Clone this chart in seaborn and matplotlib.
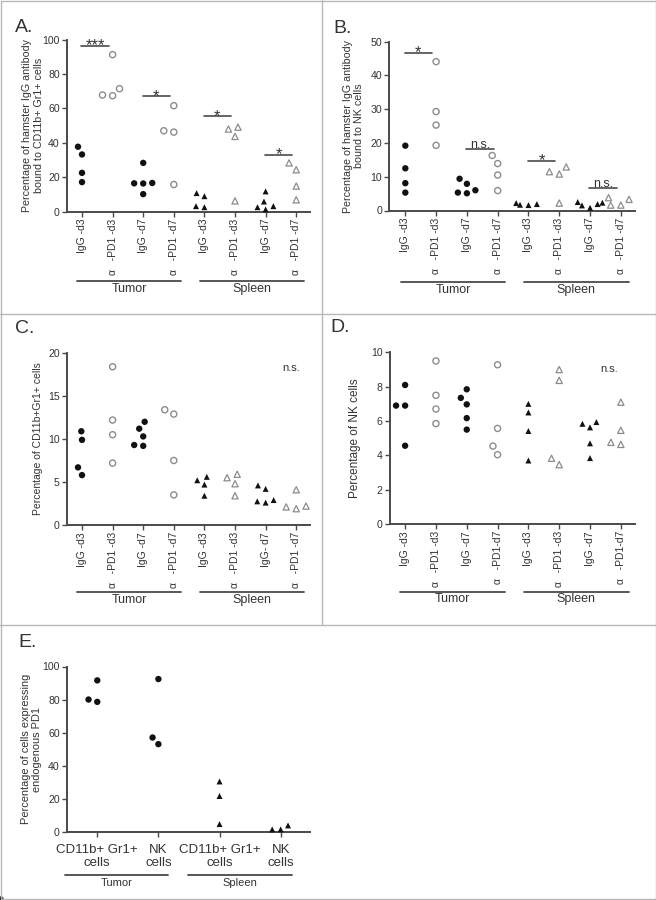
import numpy as np
import pandas as pd
import matplotlib
matplotlib.use("Agg")
import matplotlib.pyplot as plt
import seaborn as sns
from matplotlib.transforms import blended_transform_factory
from matplotlib.lines import Line2D

# ------------------------------------------------------------------ data
groups8 = ["T_IgG_d3", "T_PD1_d3", "T_IgG_d7", "T_PD1_d7",
           "S_IgG_d3", "S_PD1_d3", "S_IgG_d7", "S_PD1_d7"]
kinds8 = ["fc", "oc", "fc", "oc", "ft", "ot", "ft", "ot"]

labels_AB = ["IgG -d3", "α   -PD1 -d3", "IgG -d7", "α   -PD1 -d7",
             "IgG -d3", "α   -PD1 -d3", "IgG -d7", "α   -PD1 -d7"]
labels_C = ["IgG -d3", "α   -PD1 -d3", "IgG -d7", "α   -PD1 -d7",
            "IgG -d3", "α   -PD1 -d3", "IgG- d7", "α   -PD1 -d7"]
labels_D = ["IgG -d3", "α   -PD1 -d3", "IgG -d7", "α   -PD1-d7",
            "IgG -d3", "α   -PD1 -d3", "IgG -d7", "α   -PD1-d7"]

A_values = [[37.7, 33.2, 22.5, 17.1],
            [91.3, 71.5, 67.4, 67.8],
            [28.3, 16.6, 16.3, 16.4, 10.1],
            [61.6, 47.0, 46.2, 15.7],
            [10.7, 8.9, 2.5, 3.1],
            [48.0, 49.1, 43.7, 6.2],
            [11.7, 5.8, 3.1, 1.2, 2.5],
            [24.3, 28.3, 14.8, 6.8]]
B_values = [[19.2, 12.5, 8.1, 5.3],
            [44.1, 29.3, 25.3, 19.3],
            [9.4, 7.9, 6.0, 5.1, 5.3],
            [13.9, 16.3, 10.5, 5.9],
            [1.6, 1.9, 2.2, 1.7],
            [11.5, 10.8, 12.9, 2.2],
            [2.5, 2.3, 1.5, 0.8, 1.9],
            [3.3, 3.8, 1.6, 1.6]]
C_values = [[10.9, 9.9, 6.7, 5.8],
            [18.4, 12.2, 10.5, 7.2],
            [12.0, 10.3, 11.2, 9.2, 9.3],
            [12.9, 13.4, 7.5, 3.5],
            [5.2, 5.6, 4.7, 3.4],
            [5.5, 5.9, 4.8, 3.4],
            [4.6, 4.2, 2.9, 2.6, 2.75],
            [4.1, 2.2, 1.9, 2.1]]
D_values = [[8.1, 6.9, 6.9, 4.56],
            [9.5, 7.5, 6.7, 5.85],
            [7.85, 7.35, 6.97, 6.17, 5.5],
            [9.28, 5.57, 4.54, 4.04],
            [6.5, 7.0, 5.42, 3.7],
            [9.0, 8.37, 3.83, 3.46],
            [5.94, 5.84, 5.63, 4.7, 3.84],
            [7.1, 5.46, 4.64, 4.76]]

groupsE = ["T_CD11b", "T_NK", "S_CD11b", "S_NK"]
kindsE = ["fc", "fc", "ft", "ft"]
labels_E = ["CD11b+ Gr1+\ncells", "NK\ncells", "CD11b+ Gr1+\ncells", "NK\ncells"]
E_values = [[91.6, 78.6, 80.0],
            [92.4, 53.0, 57.0],
            [30.4, 21.6, 4.6],
            [3.8, 1.4, 1.4]]

# significance annotations: (left category, y, text)
A_sig = [(0, 96.3, "***"), (2, 67.0, "*"), (4, 55.3, "*"), (6, 33.0, "*")]
B_sig = [(0, 46.7, "*"), (2, 18.1, "n.s."), (4, 14.7, "*"), (6, 6.6, "n.s.")]

# ------------------------------------------------------------------ style
sns.set_theme(style="ticks")
plt.rcParams["font.family"] = ["Liberation Sans", "DejaVu Sans"]
TXT = "#333333"
AX = "#4a4a4a"
GREY = "#8c8c8c"
plt.rcParams["text.color"] = TXT

# visible marker size (pt); swarm layout uses a roomier size
STY = {
    "fc": (4.6, dict(marker="o", color="#111111", edgecolor="none", linewidth=0)),
    "oc": (4.4, dict(marker="o", color=GREY, facecolors="none", edgecolor=GREY, linewidth=1.0)),
    "ft": (4.3, dict(marker="^", color="#111111", edgecolor="none", linewidth=0)),
    "ot": (4.5, dict(marker="^", color=GREY, facecolors="none", edgecolor=GREY, linewidth=0.9)),
}
LAYOUT = 1.35
SWARMS = []

W, H = 656, 900
fig = plt.figure(figsize=(W / 100, H / 100), dpi=100)


def rect(left, right, top, bottom):
    return [left / W, 1 - bottom / H, (right - left) / W, (bottom - top) / H]


def draw_points(ax, values, order, kinds):
    df = pd.DataFrame({
        "group": np.repeat(order, [len(v) for v in values]),
        "value": np.concatenate([np.asarray(v, float) for v in values]),
    })
    for kind in ["fc", "oc", "ft", "ot"]:
        sel = [g for g, k in zip(order, kinds) if k == kind]
        sub = df[df["group"].isin(sel)]
        if sub.empty:
            continue
        vis, kw = STY[kind]
        n0 = len(ax.collections)
        sns.swarmplot(data=sub, x="group", y="value", order=order, ax=ax,
                      size=vis * LAYOUT, clip_on=False, zorder=4, **kw)
        for col in ax.collections[n0:]:
            SWARMS.append((col, vis))


def style_axes(ax, ymax, ystep, xlim, labels, rot, xfs, ylabel, ylab_x, ylfs):
    ax.set_xlim(*xlim)
    ax.set_ylim(0, ymax)
    ticks = np.arange(0, ymax + 0.01, ystep)
    ax.set_yticks(ticks)
    ax.set_yticklabels([f"{int(v)}" for v in ticks], fontsize=7.6)
    ax.set_xticks(range(len(labels)))
    if rot:
        ax.set_xticklabels(labels, rotation=90, fontsize=xfs, ha="center", va="top")
    else:
        ax.set_xticklabels(labels, fontsize=xfs, ha="center", va="top", linespacing=1.15)
    sns.despine(ax=ax)
    for s in ["left", "bottom"]:
        ax.spines[s].set_linewidth(1.4)
        ax.spines[s].set_color(AX)
    ax.tick_params(axis="both", direction="out", length=3.5, width=1.0, color=AX,
                   labelcolor=TXT)
    ax.tick_params(axis="x", pad=1.5 if rot else 5)
    ax.tick_params(axis="y", pad=1.5)
    ax.set_xlabel("")
    ax.set_ylabel(ylabel, fontsize=ylfs, color=TXT)
    ax.yaxis.set_label_coords(ylab_x, 0.5)


def group_lines(ax, spans, yl, yt, fs=9):
    tr = blended_transform_factory(ax.transData, ax.transAxes)
    for (x0, x1, name) in spans:
        ax.add_line(Line2D([x0, x1], [yl, yl], transform=tr, clip_on=False,
                           color=AX, lw=1.3))
        ax.text((x0 + x1) / 2, yt, name, transform=tr, ha="center", va="top",
                fontsize=fs, color=TXT)


def sig_bars(ax, sigs, fs_ns=9):
    for (i, y, t) in sigs:
        x0, x1 = i - 0.02, i + 0.87
        ax.plot([x0, x1], [y, y], color=AX, lw=1.2, clip_on=False)
        if t.startswith("*"):
            ax.annotate(t, ((x0 + x1) / 2, y), xytext=(0, -3.2), textcoords="offset points",
                        ha="center", va="baseline", fontsize=12, color=TXT)
        else:
            ax.annotate(t, ((x0 + x1) / 2, y), xytext=(0, 1.2), textcoords="offset points",
                        ha="center", va="baseline", fontsize=fs_ns, color=TXT)


spans8 = [(-0.15, 3.25, "Tumor"), (3.85, 7.25, "Spleen")]

# ------------------------------------------------------------------ panel A
axA = fig.add_axes(rect(66.7, 310, 39.7, 211.5))
draw_points(axA, A_values, groups8, kinds8)
style_axes(axA, 100, 20, (-0.5, 7.45), labels_AB, True, 7.5,
           "Percentage of hamster IgG antibody\nbound to CD11b+ Gr1+ cells", -0.093, 7.7)
sig_bars(axA, A_sig)
group_lines(axA, spans8, -0.402, -0.415)

# ------------------------------------------------------------------ panel B
axB = fig.add_axes(rect(389, 634.7, 41.7, 210.5))
draw_points(axB, B_values, groups8, kinds8)
style_axes(axB, 50, 10, (-0.53, 7.45), labels_AB, True, 7.5,
           "Percentage of hamster IgG antibody\nbound to NK cells", -0.10, 7.7)
sig_bars(axB, B_sig)
group_lines(axB, spans8, -0.422, -0.435)

# ------------------------------------------------------------------ panel C
axC = fig.add_axes(rect(66.7, 310, 353, 525))
draw_points(axC, C_values, groups8, kinds8)
style_axes(axC, 20, 5, (-0.5, 7.45), labels_C, True, 7.5,
           "Percentage of CD11b+Gr1+ cells", -0.097, 7.5)
axC.text(6.85, 18.2, "n.s.", ha="center", va="center", fontsize=8, color=TXT)
group_lines(axC, spans8, -0.388, -0.40)

# ------------------------------------------------------------------ panel D
axD = fig.add_axes(rect(389.7, 634.7, 352.4, 524))
draw_points(axD, D_values, groups8, kinds8)
style_axes(axD, 10, 2, (-0.5, 7.45), labels_D, True, 7.5,
           "Percentage of NK cells", -0.117, 8.5)
axD.text(6.63, 9.03, "n.s.", ha="center", va="center", fontsize=8, color=TXT)
group_lines(axD, spans8, -0.394, -0.405)

# ------------------------------------------------------------------ panel E
axE = fig.add_axes(rect(66.7, 310, 666.5, 831.7))
draw_points(axE, E_values, groupsE, kindsE)
style_axes(axE, 100, 20, (-0.5, 3.48), labels_E, False, 9.5,
           "Percentage of cells expressing\nendogenous PD1", -0.10, 7.9)
group_lines(axE, [(-0.52, 1.16, "Tumor"), (1.48, 3.19, "Spleen")], -0.262, -0.28, fs=8)

# ------------------------------------------------------------------ panel letters
for (x, y, t) in [(15, 32, "A."), (333, 33, "B."), (15, 333, "C."), (330, 332, "D."), (18, 647, "E.")]:
    fig.text(x / W, 1 - y / H, t, fontsize=14, color=TXT, ha="left", va="baseline")

# ------------------------------------------------------------------ frame lines
BC = "#b8b8b8"
def fline(xs, ys):
    fig.add_artist(Line2D([x / W for x in xs], [1 - y / H for y in ys], color=BC, lw=1.0))

fline([0.5, 655.5, 655.5, 0.5, 0.5], [0.5, 0.5, 898.5, 898.5, 0.5])
fline([0, 656], [314, 314])
fline([0, 656], [625, 625])
fline([322, 322], [0, 625])

# let seaborn lay out the swarms with a roomier spacing, then keep that
# layout and draw the markers at their visible size
fig.canvas.draw()
for col, vis in SWARMS:
    if "draw" in vars(col):
        del col.draw
    col.set_sizes([vis ** 2])

fig.savefig("out.png", dpi=100)
